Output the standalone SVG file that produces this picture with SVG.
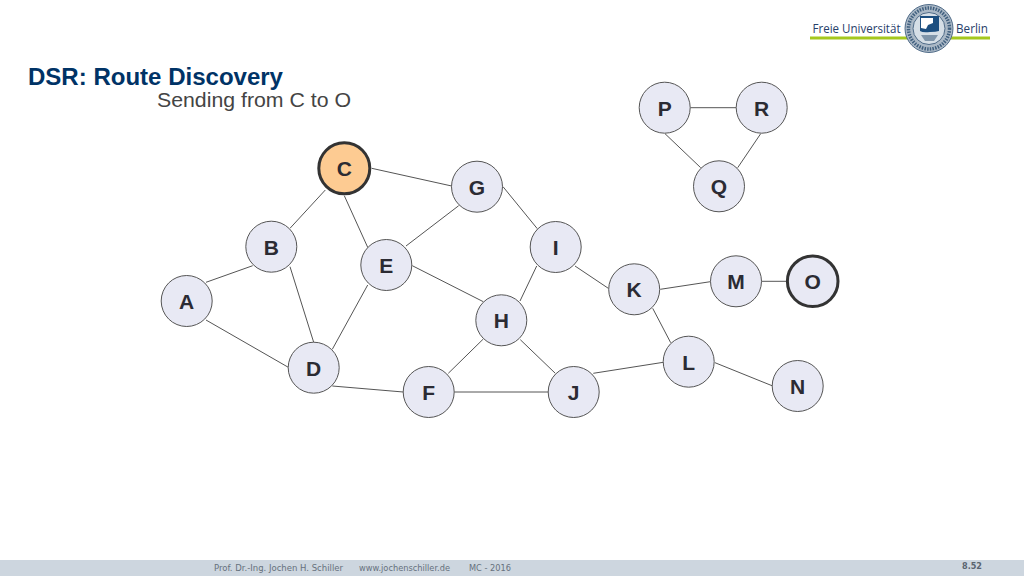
<svg xmlns="http://www.w3.org/2000/svg" width="1024" height="576" viewBox="0 0 1024 576">
<style>
text{font-family:"Liberation Sans",Arial,sans-serif}
.n{fill:#e8e9f4;stroke:#555;stroke-width:1}
.l{font-size:21px;font-weight:bold;fill:#2b2b33;text-anchor:middle}
.c line{stroke:#555;stroke-width:1}
.f{font-family:"DejaVu Sans",Verdana,sans-serif;font-size:8.500px;fill:#66717d}
.u{font-family:"Open Sans",sans-serif;font-size:13.500px;fill:#27406a}
</style>
<rect width="1024" height="576" fill="#fff"/>
<g id="logo">
<rect x="810" y="36.500" width="180" height="3" fill="#a5c81e"/>
<text class="u" x="812.500" y="33" textLength="88" lengthAdjust="spacingAndGlyphs">Freie Universität</text>
<text class="u" x="956" y="33" textLength="32" lengthAdjust="spacingAndGlyphs">Berlin</text>
<circle cx="929" cy="28.500" r="24" fill="#aab8c6" stroke="#4f6b88" stroke-width="1"/>
<circle cx="929" cy="28.500" r="20.500" fill="none" stroke="#41607f" stroke-width="3.500" stroke-dasharray="1.500 1.200"/>
<circle cx="929" cy="28.500" r="16" fill="#d5dee6" stroke="#4f6b88" stroke-width="1"/>
<path d="M920 16H939V31Q936 32 930 32Q923 33 920 31Z" fill="#1d4f80"/>
<path d="M921 18H933L933 23L928 25L926 29L921 28Z" fill="#fff"/>
<path d="M921 35H938L934 41H925Z" fill="#7f95aa"/>
</g>
<text x="28" y="85" font-size="23.500" font-weight="bold" fill="#003366" textLength="255" lengthAdjust="spacingAndGlyphs">DSR: Route Discovery</text>
<text x="157" y="107" font-size="21" fill="#444" textLength="194" lengthAdjust="spacingAndGlyphs">Sending from C to O</text>
<g id="connectors" class="c">
<line x1="371.700" y1="168.300" x2="451.700" y2="186"/>
<line x1="325.300" y1="190" x2="290" y2="228.300"/>
<line x1="344.300" y1="195.700" x2="367.700" y2="247.300"/>
<line x1="458.700" y1="205.700" x2="406" y2="246"/>
<line x1="503" y1="186.700" x2="537.300" y2="228.700"/>
<line x1="252.700" y1="265.700" x2="206" y2="282.300"/>
<line x1="290" y1="266.700" x2="313.700" y2="342.300"/>
<line x1="206" y1="320" x2="288.300" y2="367.300"/>
<line x1="367.700" y1="285" x2="332.300" y2="349.300"/>
<line x1="412.300" y1="265.700" x2="483.300" y2="301.700"/>
<line x1="536.700" y1="266" x2="520" y2="301"/>
<line x1="575" y1="266" x2="608.300" y2="288.300"/>
<line x1="483.300" y1="339" x2="448.300" y2="373.300"/>
<line x1="520.300" y1="339.700" x2="555.300" y2="373.300"/>
<line x1="332.300" y1="386" x2="403.300" y2="392"/>
<line x1="454.300" y1="392" x2="548.300" y2="392"/>
<line x1="593.300" y1="373.300" x2="663.300" y2="362.300"/>
<line x1="660.300" y1="289.300" x2="710.300" y2="281.700"/>
<line x1="652.700" y1="308.300" x2="670.700" y2="342.700"/>
<line x1="761.700" y1="281.300" x2="786.700" y2="281.300"/>
<line x1="715" y1="362.700" x2="772" y2="385.700"/>
<line x1="690.300" y1="107.700" x2="736" y2="107.700"/>
<line x1="665" y1="133.700" x2="700.700" y2="167.700"/>
<line x1="760.700" y1="133.700" x2="737.700" y2="167.700"/>
</g>
<g id="node-C"><circle cx="344.300" cy="168.300" r="25.500" fill="#fdcb92" stroke="#333" stroke-width="3"/><text class="l" x="344.300" y="176">C</text></g>
<g id="node-G"><circle class="n" cx="477" cy="186.700" r="25.500"/><text class="l" x="477" y="194.500">G</text></g>
<g id="node-B"><circle class="n" cx="271.300" cy="246.700" r="25.500"/><text class="l" x="271.300" y="255">B</text></g>
<g id="node-E"><circle class="n" cx="386.300" cy="265" r="25.500"/><text class="l" x="386.300" y="273">E</text></g>
<g id="node-I"><circle class="n" cx="555.700" cy="247" r="25.500"/><text class="l" x="555.700" y="255">I</text></g>
<g id="node-A"><circle class="n" cx="186.700" cy="301" r="25.500"/><text class="l" x="186.700" y="309">A</text></g>
<g id="node-K"><circle class="n" cx="634.200" cy="289.300" r="25.500"/><text class="l" x="634.200" y="297">K</text></g>
<g id="node-M"><circle class="n" cx="736" cy="281.300" r="25.500"/><text class="l" x="736" y="289">M</text></g>
<g id="node-O"><circle cx="812.700" cy="281.300" r="25.300" fill="#e8e9f4" stroke="#333" stroke-width="3"/><text class="l" x="812.700" y="289">O</text></g>
<g id="node-H"><circle class="n" cx="501.300" cy="320.300" r="25.500"/><text class="l" x="501.300" y="328">H</text></g>
<g id="node-D"><circle class="n" cx="313.700" cy="367.700" r="25.500"/><text class="l" x="313.700" y="376">D</text></g>
<g id="node-F"><circle class="n" cx="428.700" cy="392" r="25.500"/><text class="l" x="428.700" y="400">F</text></g>
<g id="node-J"><circle class="n" cx="573.700" cy="392" r="25.500"/><text class="l" x="573.700" y="400">J</text></g>
<g id="node-L"><circle class="n" cx="688.700" cy="361.700" r="25.500"/><text class="l" x="688.700" y="369.500">L</text></g>
<g id="node-N"><circle class="n" cx="797.700" cy="386" r="25.500"/><text class="l" x="797.700" y="394">N</text></g>
<g id="node-P"><circle class="n" cx="664.700" cy="107.700" r="25.500"/><text class="l" x="664.700" y="115.500">P</text></g>
<g id="node-R"><circle class="n" cx="761.700" cy="107.700" r="25.500"/><text class="l" x="761.700" y="115.500">R</text></g>
<g id="node-Q"><circle class="n" cx="719" cy="186.300" r="25.500"/><text class="l" x="719" y="194">Q</text></g>
<g id="footer">
<rect y="560" width="1024" height="16" fill="#cdd6df"/>
<text class="f" x="214" y="571" textLength="129" lengthAdjust="spacingAndGlyphs">Prof. Dr.-Ing. Jochen H. Schiller</text>
<text class="f" x="359" y="571" textLength="91" lengthAdjust="spacingAndGlyphs">www.jochenschiller.de</text>
<text class="f" x="469" y="571" textLength="42" lengthAdjust="spacingAndGlyphs">MC - 2016</text>
<text x="962" y="569" font-size="8" font-weight="bold" fill="#5a6470" style="font-family:'DejaVu Sans',sans-serif" textLength="20" lengthAdjust="spacingAndGlyphs">8.52</text>
</g>
</svg>
